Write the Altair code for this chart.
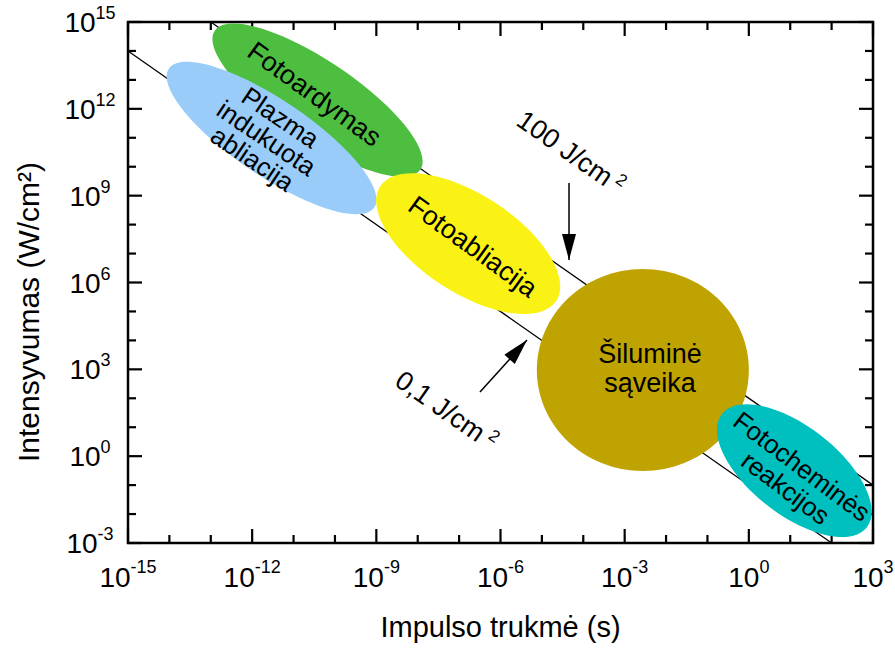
import altair as alt
import pandas as pd

# ---------------- data ----------------
x_major = [1e-15, 1e-12, 1e-9, 1e-6, 1e-3, 1e0, 1e3]
x_major_exp = ["-15", "-12", "-9", "-6", "-3", "0", "3"]
y_major = [1e-3, 1e0, 1e3, 1e6, 1e9, 1e12, 1e15]
y_major_exp = ["-3", "0", "3", "6", "9", "12", "15"]
x_minor = [1e-14, 1e-13, 1e-11, 1e-10, 1e-8, 1e-7, 1e-5, 1e-4, 1e-2, 1e-1, 1e1, 1e2]
y_minor = [1e-2, 1e-1, 1e1, 1e2, 1e4, 1e5, 1e7, 1e8, 1e10, 1e11, 1e13, 1e14]

x_title = "Impulso trukmė (s)"
y_title = "Intensyvumas (W/cm²)"

# constant-fluence lines (I * t = F)
fluence_names = ["100 J/cm²", "100 J/cm²", "0,1 J/cm²", "0,1 J/cm²"]
fluence_t = [1e-13, 1e3, 1e-15, 1e2]
fluence_I = [1e15, 1e-1, 1e14, 1e-3]

# interaction regions (centres)
region_names = ["Fotoardymas", "Plazma indukuota abliacija", "Fotoabliacija",
                "Šiluminė sąveika", "Fotocheminės reakcijos"]
region_t = [3.8e-11, 2.95e-12, 1.66e-7, 2.75e-3, 12.6]
region_I = [2.0e12, 9.8e10, 2.2e7, 955.0, 0.316]

# region labels
label_text = ["Fotoardymas", "Plazma\nindukuota\nabliacija", "Fotoabliacija",
              "Šiluminė\nsąveika", "Fotocheminės\nreakcijos"]
label_t = [3.1e-11, 2.14e-12, 2.09e-7, 4.07e-3, 11.7]
label_I = [3.0e12, 9.1e10, 1.62e7, 955.0, 0.174]

# fluence annotations and arrows
annot_text = ["100 J/cm", "0,1 J/cm"]
annot_sup = ["2", "2"]
annot_t = [4.79e-5, 4.57e-8]
annot_I = [2.95e10, 36.7]
arrow_t = [4.52e-5, 3.19e-7]
arrow_I = [2.74e9, 164.0]
arrow_t2 = [4.52e-5, 4.37e-6]
arrow_I2 = [5.97e6, 1.03e4]

# ---------------- styles ----------------
W, H = 745, 521
FONT = "Liberation Sans"
region_style = [
    dict(color="#4DBE3F", a=124, b=39, angle=34, tangle=36, lh=26, fs=27, n=1),
    dict(color="#99CCF8", a=124, b=38, angle=34, tangle=34, lh=25, fs=26, n=3),
    dict(color="#FAF214", a=105, b=49, angle=33, tangle=36, lh=26, fs=27, n=1),
    dict(color="#BFA300", a=106, b=101, angle=0, tangle=0, lh=29, fs=27, n=2),
    dict(color="#00BFBF", a=92, b=44, angle=38, tangle=37, lh=27, fs=26, n=2),
]
annot_style = [dict(dx=-7, sdx=53), dict(dx=-6.5, sdx=50)]

xscale = alt.Scale(type="log", domain=[1e-15, 1e3], nice=False)
yscale = alt.Scale(type="log", domain=[1e-3, 1e15], nice=False)


def X(f="t"):
    return alt.X(f"{f}:Q", scale=xscale, axis=None)


def Y(f="I"):
    return alt.Y(f"{f}:Q", scale=yscale, axis=None)


def ellipse_path(a, b):
    return f"M {-a} 0 A {a} {b} 0 1 0 {a} 0 A {a} {b} 0 1 0 {-a} 0 Z"


layers = []

# base layer: grid only
grid_df = pd.DataFrame({"t": x_major, "I": y_major})
base = alt.Chart(grid_df).mark_point(opacity=0).encode(
    x=alt.X("t:Q", scale=xscale, axis=alt.Axis(
        values=x_major, grid=True, gridColor="#C8C8C8", gridWidth=1,
        labels=False, ticks=False, domain=False, title=None)),
    y=alt.Y("I:Q", scale=yscale, axis=alt.Axis(
        values=y_major, grid=True, gridColor="#C8C8C8", gridWidth=1,
        labels=False, ticks=False, domain=False, title=None)),
)
layers.append(base)

# axis titles
ttl_df = pd.DataFrame({"xt": [x_title], "yt": [y_title]})
layers.append(alt.Chart(ttl_df).mark_text(
    font=FONT, fontSize=29, color="black", align="center", baseline="alphabetic").encode(
    x=alt.value(W / 2), y=alt.value(H + 94), text="xt:N"))
layers.append(alt.Chart(ttl_df).mark_text(
    font=FONT, fontSize=30, color="black", align="center", baseline="alphabetic", angle=270).encode(
    x=alt.value(-89), y=alt.value(290), text="yt:N"))

# ticks (inward)
xt_major = pd.DataFrame({"t": x_major})
xt_minor = pd.DataFrame({"t": x_minor})
yt_major = pd.DataFrame({"I": y_major})
yt_minor = pd.DataFrame({"I": y_minor})
for df, ln in [(xt_major, 14), (xt_minor, 8)]:
    layers.append(alt.Chart(df).mark_rule(color="black", strokeWidth=2.2).encode(
        x=X(), y=alt.value(H), y2=alt.value(H - ln)))
    layers.append(alt.Chart(df).mark_rule(color="black", strokeWidth=2.2).encode(
        x=X(), y=alt.value(0), y2=alt.value(ln)))
for df, ln in [(yt_major, 14), (yt_minor, 8)]:
    layers.append(alt.Chart(df).mark_rule(color="black", strokeWidth=2.2).encode(
        y=Y(), x=alt.value(0), x2=alt.value(ln)))
    layers.append(alt.Chart(df).mark_rule(color="black", strokeWidth=2.2).encode(
        y=Y(), x=alt.value(W), x2=alt.value(W - ln)))

# fluence lines
fl_df = pd.DataFrame({"name": fluence_names, "t": fluence_t, "I": fluence_I})
layers.append(alt.Chart(fl_df).mark_line(color="black", strokeWidth=1.3).encode(
    x=X(), y=Y(), detail="name:N"))

# regions (ellipses)
reg_df = pd.DataFrame({"name": region_names, "t": region_t, "I": region_I})
for name, st in zip(region_names, region_style):
    layers.append(alt.Chart(reg_df).transform_filter(
        alt.datum.name == name).mark_point(
        shape=ellipse_path(st["a"], st["b"]), size=4, angle=st["angle"],
        filled=True, fill=st["color"], opacity=1, strokeWidth=0).encode(x=X(), y=Y()))

# region labels
lab_df = pd.DataFrame({"name": region_names, "text": label_text, "t": label_t, "I": label_I})
for name, st in zip(region_names, region_style):
    layers.append(alt.Chart(lab_df).transform_filter(
        alt.datum.name == name).mark_text(
        font=FONT, fontSize=st["fs"], color="black", align="center", baseline="middle",
        angle=st["tangle"], lineBreak="\n", lineHeight=st["lh"],
        dy=-(st["n"] - 1) / 2 * st["lh"]).encode(
        x=X(), y=Y(), text="text:N"))

# annotations
an_df = pd.DataFrame({"k": [0, 1], "text": annot_text, "sup": annot_sup, "t": annot_t, "I": annot_I})
for k, st in enumerate(annot_style):
    b = alt.Chart(an_df).transform_filter(alt.datum.k == k)
    layers.append(b.mark_text(
        font=FONT, fontSize=27, color="black", align="center", baseline="middle",
        angle=35, dx=st["dx"]).encode(x=X(), y=Y(), text="text:N"))
    layers.append(b.mark_text(
        font=FONT, fontSize=17, color="black", align="left", baseline="alphabetic",
        angle=35, dx=st["sdx"], dy=-2).encode(x=X(), y=Y(), text="sup:N"))

ar_df = pd.DataFrame({"k": [0, 1], "t": arrow_t, "I": arrow_I, "t2": arrow_t2, "I2": arrow_I2})
layers.append(alt.Chart(ar_df).mark_rule(color="black", strokeWidth=1.5).encode(
    x=X(), y=Y(), x2="t2:Q", y2="I2:Q"))
head = "M 0 0 L -7 -26 L 7 -26 Z"
for k, ang in [(0, 0), (1, 222)]:
    layers.append(alt.Chart(ar_df).transform_filter(alt.datum.k == k).mark_point(
        shape=head, size=4, angle=ang, filled=True, fill="black", opacity=1, strokeWidth=0).encode(
        x=X("t2"), y=Y("I2")))

# tick labels: x
xl_df = pd.DataFrame({"t": x_major, "e": x_major_exp})
for exps, s in [(["-15", "-12"], 2.6), (["-9", "-6", "-3"], 7.6), (["0", "3"], 10.6)]:
    b = alt.Chart(xl_df).transform_filter(alt.FieldOneOfPredicate(field="e", oneOf=exps))
    layers.append(b.mark_text(font=FONT, fontSize=28, color="black", align="right",
                              baseline="alphabetic", dx=s).encode(
        x=X(), y=alt.value(H + 44), text=alt.value("10")))
    layers.append(b.mark_text(font=FONT, fontSize=18, color="black", align="left",
                              baseline="alphabetic", dx=s).encode(
        x=X(), y=alt.value(H + 30), text="e:N"))

# tick labels: y
yl_df = pd.DataFrame({"I": y_major, "e": y_major_exp})
for exps, s in [(["15", "12"], -32.4), (["9", "6", "3", "0"], -27.4), (["-3"], -30.4)]:
    b = alt.Chart(yl_df).transform_filter(alt.FieldOneOfPredicate(field="e", oneOf=exps))
    layers.append(b.mark_text(font=FONT, fontSize=28, color="black", align="right",
                              baseline="alphabetic", dy=10).encode(
        y=Y(), x=alt.value(s), text=alt.value("10")))
    layers.append(b.mark_text(font=FONT, fontSize=18, color="black", align="left",
                              baseline="alphabetic", dy=-3).encode(
        y=Y(), x=alt.value(s), text="e:N"))

chart = alt.layer(*layers).properties(
    width=W, height=H,
    autosize=alt.AutoSizeParams(type="none"),
    padding={"left": 128, "top": 22, "right": 22, "bottom": 105},
).configure_view(stroke="black", strokeWidth=2.5)

chart.save("out.html", embed_options={"renderer": "svg", "actions": False})
